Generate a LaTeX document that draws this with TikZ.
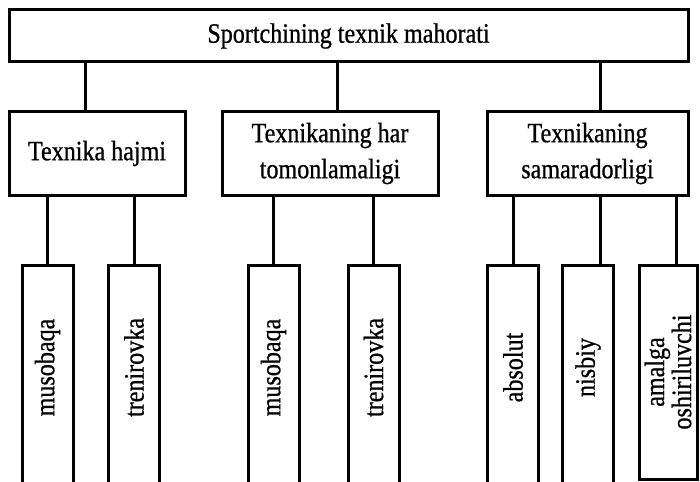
\documentclass[tikz,border=0pt]{standalone}
\usepackage{fontspec}
\setmainfont[FakeStretch=0.86, FakeBold=0.8]{Liberation Serif}

\begin{document}
\begin{tikzpicture}[x=1pt, y=-1pt, line width=3pt,
    box/.style={draw, line width=3pt, inner sep=0pt, align=center,
                font=\fontsize{28}{36}\selectfont},
    leaf/.style={box, rotate=90, minimum width=219pt, minimum height=51pt,
                 font=\fontsize{28}{27}\selectfont}
   ]
\useasboundingbox (0,0) rectangle (700,481);

\node[box, minimum width=679pt, minimum height=52pt] (top) at (348.5,36) {Sportchining texnik mahorati};

\node[box, minimum width=176pt, minimum height=83pt] (A) at (97,153.5) {Texnika hajmi};
\node[box, minimum width=216pt, minimum height=83pt] (B) at (330,153.5) {Texnikaning har\\tomonlamaligi};
\node[box, minimum width=201pt, minimum height=83pt] (C) at (587.5,153.5) {Texnikaning\\samaradorligi};

\node[leaf] (A1) at (47.5,374.5) {\hspace*{14pt}musobaqa};
\node[leaf] (A2) at (134,374.5) {\hspace*{14pt}trenirovka};
\node[leaf] (B1) at (273.5,374.5) {\hspace*{14pt}musobaqa};
\node[leaf] (B2) at (373.5,374.5) {\hspace*{14pt}trenirovka};
\node[leaf] (C1) at (513,374.5) {\hspace*{14pt}absolut};
\node[leaf] (C2) at (588,374.5) {\hspace*{14pt}nisbiy};
\node[leaf, minimum width=214pt, minimum height=58pt] (C3) at (668,372) {amalga\\oshiriluvchi};

\foreach \c/\s in {A/-12, B/7, C/12.5}
    \draw ([xshift=\s pt]\c.north) -- ([xshift=\s pt]\c.north |- top.south);

\foreach \p/\c/\s in {A/A1/0, A/A2/0, B/B1/0, B/B2/0, C/C1/0, C/C2/12, C/C3/8}
    \draw ([xshift=\s pt]\c.east) -- ([xshift=\s pt]\c.east |- \p.south);

\end{tikzpicture}
\end{document}
